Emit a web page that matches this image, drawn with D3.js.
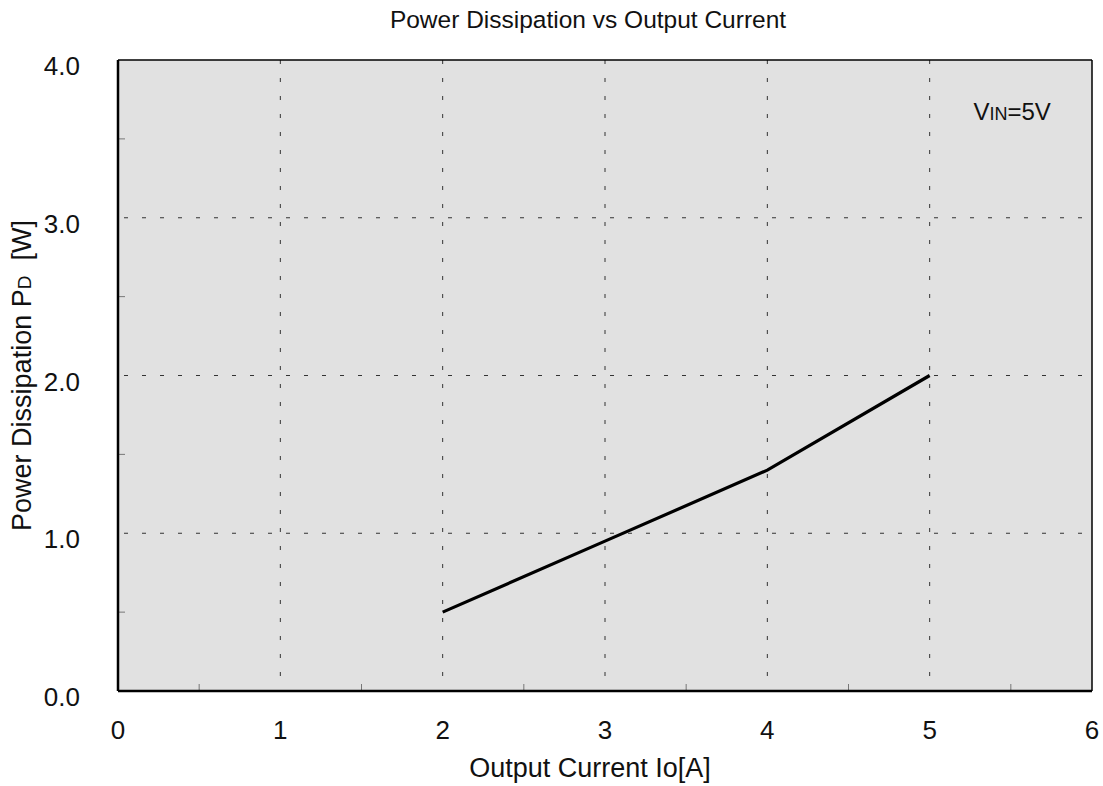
<!DOCTYPE html>
<html>
<head>
<meta charset="utf-8">
<title>Power Dissipation vs Output Current</title>
<style>
  body {margin:0; background:#fff;}
  svg {display:block; font-family:"Liberation Sans", Arial, sans-serif;}
  .grid line {stroke:#333; stroke-width:1px; stroke-dasharray:4,14;}
  .minor line {stroke:#777; stroke-width:1px;}
  .ticklabel {font-size:26px; fill:#111;}
  .title {font-size:24.5px; fill:#111;}
  .axislabel {font-size:27px; fill:#111;}
</style>
<script src="https://cdn.jsdelivr.net/npm/d3@7"></script>
</head>
<body>
<svg id="chart" width="1103" height="786"></svg>
<script>
var currents = [2, 3, 4, 5];
var power    = [0.5, 0.95, 1.4, 2.0];
var xTicks   = [0, 1, 2, 3, 4, 5, 6];
var yTicks   = [0, 1, 2, 3, 4];
var xMinor   = [0.5, 1.5, 2.5, 3.5, 4.5, 5.5];
var yMinor   = [0.5, 1.5, 2.5, 3.5];

var margin = {top: 60, right: 11, bottom: 95, left: 118};
var width  = 1103 - margin.left - margin.right;
var height = 786 - margin.top - margin.bottom;

var svg = d3.select("#chart");
var g = svg.append("g").attr("transform", "translate(" + margin.left + "," + margin.top + ")");

var x = d3.scaleLinear().domain([0, 6]).range([0, width]);
var y = d3.scaleLinear().domain([0, 4]).range([height, 0]);

// plot background
g.append("rect")
  .attr("width", width).attr("height", height)
  .attr("fill", "#e1e1e1");

// dotted grid
var grid = g.append("g").attr("class", "grid");
grid.selectAll(".vg").data(xTicks.slice(1, -1)).enter()
  .append("line")
  .attr("x1", function(d) { return x(d); }).attr("x2", function(d) { return x(d); })
  .attr("y1", 0).attr("y2", height);
grid.selectAll(".hg").data(yTicks.slice(1, -1)).enter()
  .append("line")
  .attr("x1", 6).attr("x2", width - 10)
  .attr("y1", function(d) { return y(d); }).attr("y2", function(d) { return y(d); });

// minor ticks inside the frame
var minor = g.append("g").attr("class", "minor");
minor.selectAll(".mx").data(xMinor).enter()
  .append("line")
  .attr("x1", function(d) { return x(d); }).attr("x2", function(d) { return x(d); })
  .attr("y1", height).attr("y2", height - 7);
minor.selectAll(".my").data(yMinor).enter()
  .append("line")
  .attr("x1", 0).attr("x2", 7)
  .attr("y1", function(d) { return y(d); }).attr("y2", function(d) { return y(d); });

// frame
g.append("line").attr("x1", 0).attr("x2", width).attr("y1", 0).attr("y2", 0)
  .attr("stroke", "#000").attr("stroke-width", 1.5);
g.append("line").attr("x1", width).attr("x2", width).attr("y1", 0).attr("y2", height)
  .attr("stroke", "#000").attr("stroke-width", 1.5);
g.append("line").attr("x1", 0).attr("x2", 0).attr("y1", 0).attr("y2", height)
  .attr("stroke", "#000").attr("stroke-width", 2.5);
g.append("line").attr("x1", 0).attr("x2", width).attr("y1", height).attr("y2", height)
  .attr("stroke", "#000").attr("stroke-width", 2.5);

// data line
var line = d3.line()
  .x(function(d, i) { return x(currents[i]); })
  .y(function(d) { return y(d); });
g.append("path")
  .datum(power)
  .attr("d", line)
  .attr("fill", "none")
  .attr("stroke", "#000")
  .attr("stroke-width", 3.2);

// tick labels
g.selectAll(".xl").data(xTicks).enter()
  .append("text")
  .attr("class", "ticklabel")
  .attr("x", function(d) { return x(d); })
  .attr("y", height + 48)
  .attr("text-anchor", "middle")
  .text(function(d) { return d; });
g.selectAll(".yl").data(yTicks).enter()
  .append("text")
  .attr("class", "ticklabel")
  .attr("x", -38)
  .attr("y", function(d) { return y(d) + 15; })
  .attr("text-anchor", "end")
  .text(function(d) { return d3.format(".1f")(d); });

// title
svg.append("text")
  .attr("class", "title")
  .attr("x", 588).attr("y", 28)
  .attr("text-anchor", "middle")
  .text("Power Dissipation vs Output Current");

// axis titles
svg.append("text")
  .attr("class", "axislabel")
  .attr("x", margin.left + width / 2 - 15).attr("y", 777)
  .attr("text-anchor", "middle")
  .text("Output Current Io[A]");

var yl = svg.append("text")
  .attr("class", "axislabel")
  .attr("transform", "translate(31," + (margin.top + height / 2) + ") rotate(-90)")
  .attr("text-anchor", "middle");
yl.append("tspan").text("Power Dissipation P");
yl.append("tspan").attr("font-size", "19px").text("D");
yl.append("tspan").text("  [W]").attr("xml:space", "preserve");

// condition note
var note = g.append("text")
  .attr("x", x(5.27)).attr("y", y(3.62))
  .attr("font-size", "24px").attr("fill", "#111");
note.append("tspan").text("V");
note.append("tspan").attr("font-size", "18px").text("IN");
note.append("tspan").text("=5V");
</script>
</body>
</html>
